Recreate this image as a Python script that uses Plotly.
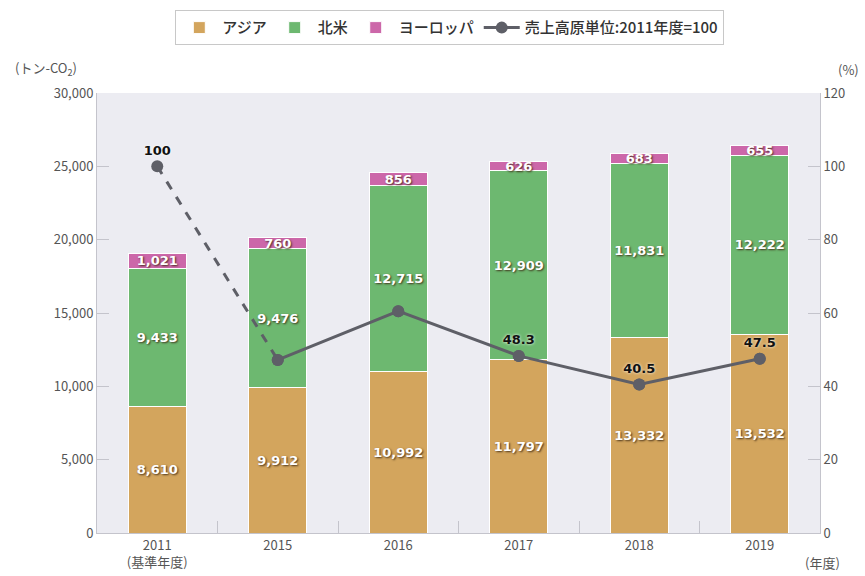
import plotly.graph_objects as go

years = ["2011<br>(基準年度)", "2015", "2016", "2017", "2018", "2019"]
asia = [8610, 9912, 10992, 11797, 13332, 13532]
north_america = [9433, 9476, 12715, 12909, 11831, 12222]
europe = [1021, 760, 856, 626, 683, 655]
intensity = [100, 47.2, 60.5, 48.3, 40.5, 47.5]
intensity_labels = ["100", "", "", "48.3", "40.5", "47.5"]

FONT = "Noto Sans CJK JP"
bar_font = dict(family="DejaVu Sans", size=13, color="white", weight="bold",
                shadow="1px 1px 2px rgba(60,40,20,0.9)")

fig = go.Figure()

def fmt(v):
    return f"{v:,}"

for name, vals, col in [("アジア", asia, "#d3a55d"),
                        ("北米", north_america, "#6db870"),
                        ("ヨーロッパ", europe, "#cc67a9")]:
    fig.add_trace(go.Bar(
        x=years, y=vals, name=name, marker=dict(color=col, line=dict(color="white", width=1)),
        width=0.48, text=[fmt(v) for v in vals], textposition="inside",
        insidetextanchor="middle", constraintext="none", textfont=bar_font,
        hoverinfo="skip"))

line_col = "#5e5f67"
# dashed segment 2011 -> 2015
fig.add_trace(go.Scatter(x=years[:2], y=intensity[:2], mode="lines", yaxis="y2",
                         line=dict(color=line_col, width=3, dash="dash"), showlegend=False))
# solid segment 2015 -> 2019
fig.add_trace(go.Scatter(x=years[1:], y=intensity[1:], mode="lines+markers", yaxis="y2",
                         name="売上高原単位:2011年度=100",
                         line=dict(color=line_col, width=3),
                         marker=dict(color=line_col, size=12)))
# markers + labels for all points
fig.add_trace(go.Scatter(x=years, y=intensity, mode="markers+text", yaxis="y2",
                         marker=dict(color=line_col, size=12),
                         text=intensity_labels, textposition="top center",
                         textfont=dict(family="DejaVu Sans", size=13, color="#111", weight="bold",
                                       shadow="0px 0px 3px white"),
                         showlegend=False))

axis_col = "#c4c4cc"
tick_font = dict(family=FONT, size=13, color="#555")
fig.update_layout(
    width=865, height=576,
    margin=dict(l=97, r=45, t=93, b=43, autoexpand=False),
    paper_bgcolor="white", plot_bgcolor="#ececf2",
    barmode="stack",
    font=dict(family=FONT, size=13, color="#444"),
    showlegend=True,
    legend=dict(orientation="h", xref="container", yref="container", x=0.52, y=0.982,
                xanchor="center", yanchor="top", bordercolor="#c8c8c8", borderwidth=1,
                font=dict(family=FONT, size=15, color="#333", weight=500), traceorder="normal",
                itemwidth=36),
    xaxis=dict(type="category", showgrid=False, showline=True, linecolor=axis_col,
               ticks="inside", tickson="boundaries", ticklen=12, tickcolor=axis_col,
               tickfont=tick_font),
    yaxis=dict(range=[0, 30000], dtick=5000, tickformat=",", showgrid=False,
               showline=True, linecolor=axis_col, ticks="inside", ticklen=12,
               tickcolor=axis_col, tickfont=tick_font, zeroline=False),
    yaxis2=dict(range=[0, 120], dtick=20, overlaying="y", side="right", showgrid=False,
                showline=True, linecolor=axis_col, ticks="inside", ticklen=12,
                tickcolor=axis_col, tickfont=tick_font, zeroline=False),
    annotations=[
        dict(text="(トン-CO<sub>2</sub>)", xref="paper", yref="paper", x=-0.07, y=1.028,
             xanchor="center", yanchor="bottom", showarrow=False, font=tick_font),
        dict(text="(%)", xref="paper", yref="paper", x=1.04, y=1.028,
             xanchor="center", yanchor="bottom", showarrow=False, font=tick_font),
        dict(text="(年度)", xref="paper", yref="paper", x=1.004, y=-0.04,
             xanchor="center", yanchor="top", showarrow=False, font=tick_font),
    ],
)

fig.write_html("out.html", config={"displayModeBar": False},
               post_script="document.body.style.margin='0';document.body.style.overflow='hidden';")
